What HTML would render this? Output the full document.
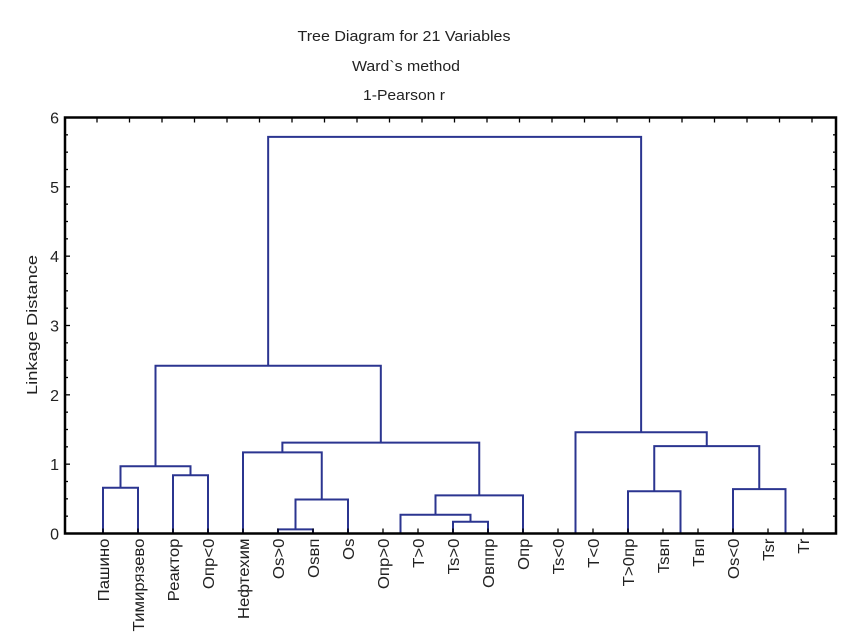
<!DOCTYPE html>
<html><head><meta charset="utf-8"><style>
body{margin:0;background:#fff;width:859px;height:643px;overflow:hidden}
svg{display:block;font-family:"Liberation Sans","Noto Sans CJK SC",sans-serif}
</style></head><body>
<svg id="c" width="859" height="643">
<text x="404" y="41" font-size="15" text-anchor="middle" textLength="213" lengthAdjust="spacingAndGlyphs" fill="#222">Tree Diagram for 21 Variables</text>
<text x="406" y="71" font-size="15" text-anchor="middle" textLength="108" lengthAdjust="spacingAndGlyphs" fill="#222">Ward`s method</text>
<text x="404" y="100" font-size="15" text-anchor="middle" textLength="82" lengthAdjust="spacingAndGlyphs" fill="#222">1-Pearson r</text>
<text transform="translate(37,325) rotate(-90)" font-size="15" text-anchor="middle" textLength="140" lengthAdjust="spacingAndGlyphs" fill="#222">Linkage Distance</text>
<g id="plot"></g>
</svg>
<script>
const leafLabels = ["Пашино","Тимирязево","Реактор","Опр<0","Нефтехим","Os>0","Osвп","Os","Опр>0","T>0","Ts>0","Овппр","Опр","Ts<0","T<0","T>0пр","Tsвп","Tвп","Os<0","Tsr","Tr"];
const mergeA = [5,0,2,22,21,4,8,10,27,29,26,24,13,16,15,19,18,35,33,32];
const mergeB = [6,1,3,23,7,25,9,11,28,12,30,31,14,17,34,20,36,37,38,39];
const mergeHeight = [0.06,0.66,0.84,0.97,0.49,1.17,0,0.17,0.27,0.55,1.31,2.42,0,0,0.61,0,0.64,1.26,1.46,5.72];
const yTicks = [0,1,2,3,4,5,6];

const NS="http://www.w3.org/2000/svg";
const g=document.getElementById('plot');
const L=65,R=836,T=117.5,B=533.5;
const yScale=v=>B-(v/6)*(B-T);
const xLeaf=i=>103+35*i;
function mk(tag,attrs){const e=document.createElementNS(NS,tag);for(const k in attrs)e.setAttribute(k,attrs[k]);g.appendChild(e);return e;}

const nodeX=[],nodeH=[];
leafLabels.forEach((lab,i)=>{nodeX[i]=xLeaf(i);nodeH[i]=0;});
mergeA.forEach((a,k)=>{
  const b=mergeB[k],h=mergeHeight[k],id=leafLabels.length+k;
  const xa=nodeX[a],xb=nodeX[b],yh=yScale(h);
  const p=mk('path',{d:`M${xa},${yScale(nodeH[a])}V${yh}H${xb}V${yScale(nodeH[b])}`,fill:'none',stroke:'#2b3590','stroke-width':2});
  
  
  nodeX[id]=(xa+xb)/2;nodeH[id]=h;
});
const fr=mk('rect',{x:L,y:T,width:R-L,height:B-T,fill:'none',stroke:'#000','stroke-width':2.5});


for(let v=0;v<=6.001;v+=0.25){
  const y=yScale(v);const major=Math.abs(v-Math.round(v))<1e-6;
  const t=mk('line',{x1:L,x2:L+(major?5:3),y1:y,y2:y,stroke:'#000','stroke-width':1.3});
  
  
  const t2=mk('line',{x1:R,x2:R-(major?5:3),y1:y,y2:y,stroke:'#000','stroke-width':1.3});
  
  
}
yTicks.forEach(v=>{
  const tx=mk('text',{x:L-6,y:yScale(v)+6,'font-size':16,'text-anchor':'end',fill:'#222'});
  tx.textContent=v;
  
  
});
for(let x=97;x<R;x+=32.5){
  const t=mk('line',{x1:x,x2:x,y1:T,y2:T+5,stroke:'#000','stroke-width':1.3});
  
  
}
leafLabels.forEach((lab,i)=>{
  const t=mk('line',{x1:xLeaf(i),x2:xLeaf(i),y1:B,y2:B-5,stroke:'#000','stroke-width':1.3});
  
  
  const tx=mk('text',{transform:`translate(${xLeaf(i)+6},${B+5}) rotate(-90) scale(1.05,1)`,'font-size':16,'text-anchor':'end',fill:'#222'});
  tx.textContent=lab;
  
  
});
</script>
</body></html>
